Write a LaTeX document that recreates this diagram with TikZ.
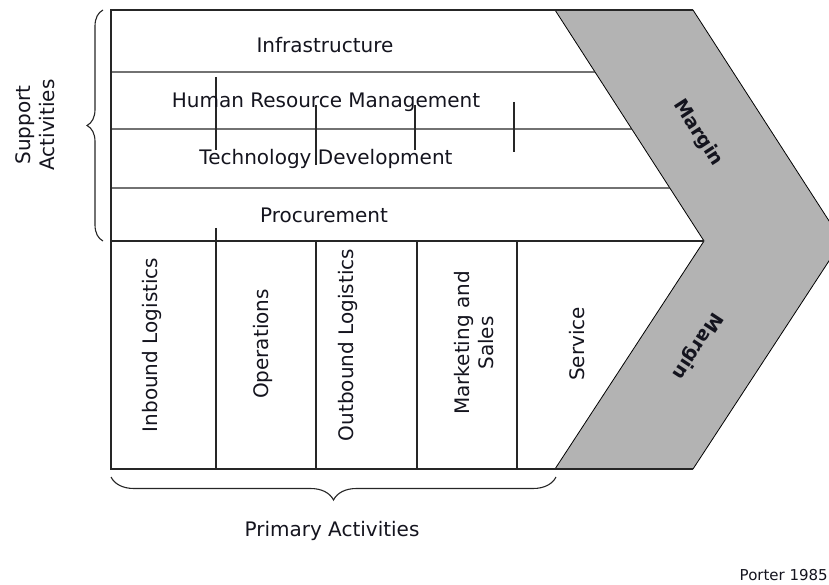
\documentclass[tikz,border=0pt]{standalone}
\usepackage{fontspec}
\setmainfont{DejaVu Sans}
\usetikzlibrary{calc,decorations.pathreplacing}
\definecolor{marg}{RGB}{179,179,179}
\definecolor{ink}{RGB}{20,20,30}
\begin{document}
\begin{tikzpicture}[x=1pt,y=-1pt,
  lbl/.style={inner sep=0pt,text=ink,font=\fontsize{20}{24}\selectfont},
  vlbl/.style={lbl,rotate=90,align=center},
  mlbl/.style={inner sep=0pt,text=ink,font=\fontsize{19}{23}\selectfont\bfseries},
  frame/.style={line width=1.4pt,black!85},
  band/.style={fill=marg,draw=black,line width=0.8pt},
  bracestyle/.style={decorate,decoration={brace,amplitude=#1},line width=1.1pt,black!85}
]
\useasboundingbox (0,0) rectangle (829,585);
\clip (0,0) rectangle (829,585);

% key points
\coordinate (tl) at (111,10);
\coordinate (bl) at (111,469);
\coordinate (mi1) at (555,10);
\coordinate (mo1) at (693,10);
\coordinate (tip) at (842,241);
\coordinate (mo2) at (693,469);
\coordinate (mi2) at (555,469);
\coordinate (vi) at (704,241);

% margin chevron
\draw[band] (mi1) -- (mo1) -- (tip) -- (mo2) -- (mi2) -- (vi) -- cycle;

% row boundaries
\coordinate (r1) at (111,72);
\coordinate (r2) at (111,129);
\coordinate (r3) at (111,188);
\coordinate (r4) at (111,241);
\coordinate (r1e) at ($(mi1)!{62/231}!(vi)$);
\coordinate (r2e) at ($(mi1)!{119/231}!(vi)$);
\coordinate (r3e) at ($(mi1)!{178/231}!(vi)$);

\draw[frame] (mo1) -- (tl) -- (bl) -- (mo2);
\draw[frame] (r1) -- (r1e);
\draw[frame] (r2) -- (r2e);
\draw[frame] (r3) -- (r3e);
\draw[frame] (r4) -- (vi);

% primary columns
\coordinate (c1t) at (216,241); \coordinate (c1b) at (216,469);
\coordinate (c2t) at (316,241); \coordinate (c2b) at (316,469);
\coordinate (c3t) at (417,241); \coordinate (c3b) at (417,469);
\coordinate (c4t) at (517,241); \coordinate (c4b) at (517,469);
\draw[frame] (c1t) -- (c1b);
\draw[frame] (c2t) -- (c2b);
\draw[frame] (c3t) -- (c3b);
\draw[frame] (c4t) -- (c4b);

% ticks across support rows
\coordinate (k1a) at (216,77);  \coordinate (k1b) at (216,150);
\coordinate (k2a) at (316,105); \coordinate (k2b) at (316,165);
\coordinate (k3a) at (415,105); \coordinate (k3b) at (415,150);
\coordinate (k4a) at (514,102); \coordinate (k4b) at (514,152);
\coordinate (k5a) at (216,228);
\draw[frame] (k1a) -- (k1b);
\draw[frame] (k2a) -- (k2b);
\draw[frame] (k3a) -- (k3b);
\draw[frame] (k4a) -- (k4b);
\draw[frame] (k5a) -- (c1t);

% support labels
\node[lbl,anchor=base] (infra) at (325,53) {Infrastructure};
\node[lbl,anchor=base] (hrm) at (326,108) {Human Resource Management};
\node[lbl,anchor=base] (tech) at (326,165) {Technology Development};
\node[lbl,anchor=base] (proc) at (324,223) {Procurement};

% primary labels
\node[vlbl] (inb) at (152,345) {Inbound Logistics};
\node[vlbl] (ops) at (263,344) {Operations};
\node[vlbl] (outb) at (348,345) {Outbound Logistics};
\node[vlbl] (mkt) at (474,343) {Marketing and\\Sales};
\node[vlbl] (serv) at (577,344) {Service};

% margin labels
\node[mlbl,rotate=-57.2] (mtop) at (698,133) {Margin};
\node[mlbl,rotate=236.8] (mbot) at (697,346) {Margin};

% braces
\coordinate (bs1) at (103,241); \coordinate (bs2) at (103,10);
\draw[bracestyle=16pt] (bs1) -- (bs2);
\coordinate (bp1) at (556,477); \coordinate (bp2) at (111,477);
\draw[bracestyle=23pt] (bp1) -- (bp2);

\node[vlbl] (support) at (35,125) {Support\\Activities};
\node[lbl,anchor=base] (primary) at (332,536) {Primary Activities};
\node[inner sep=0pt,text=ink,font=\fontsize{15}{18}\selectfont,anchor=base east] (porter) at (828,580) {Porter 1985};
\end{tikzpicture}
\end{document}
